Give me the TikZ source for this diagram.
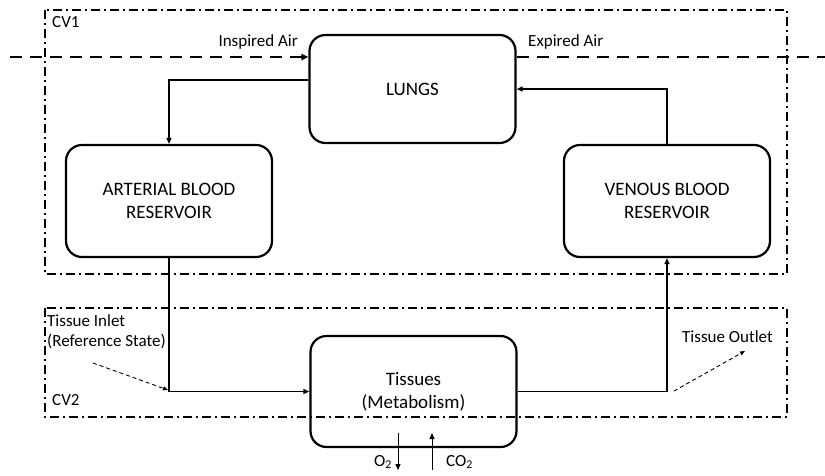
\documentclass[tikz,border=0pt]{standalone}
\usepackage{fontspec}
\setmainfont{Carlito}
\usetikzlibrary{arrows.meta,positioning}

\begin{document}
\begin{tikzpicture}[x=1pt,y=-1pt,
  organ/.style={draw, line width=2.2pt, rounded corners=16pt, align=center,
    minimum width=206pt, minimum height=108pt, font=\fontsize{19}{23}\selectfont},
  flow/.style={line width=1.3pt, -{Triangle[length=6pt,width=5pt]}},
  air/.style={line width=2pt, dash pattern=on 12pt off 8pt},
  ctrlvol/.style={line width=1.6pt, dash pattern=on 9pt off 4pt on 2pt off 4pt},
  state/.style={line width=0.9pt, dash pattern=on 4pt off 3pt, -{Triangle[length=5pt,width=4pt]}},
  lbl/.style={font=\fontsize{17}{20}\selectfont, inner sep=0pt}]
\useasboundingbox (0,0) rectangle (825,475);
% Control volumes
\draw[ctrlvol] (45,10) rectangle (787,274);
\draw[ctrlvol] (45,308) rectangle (787,417);
\node[lbl, anchor=west] (cv1) at (52,22) {CV1};
\node[lbl, anchor=west] (cv2) at (52,400) {CV2};
% Compartments
\node[organ] (lungs) at (412.5,89) {LUNGS};
\node[organ, minimum height=112pt] (arterial) at (169,201) {ARTERIAL BLOOD\\RESERVOIR};
\node[organ, minimum height=112pt] (venous) at (667,201) {VENOUS BLOOD\\RESERVOIR};
\node[organ, minimum height=111pt] (tissues) at (413.5,391.5) {Tissues\\(Metabolism)};
% Blood circulation
\draw[flow] ([yshift=9pt]lungs.west) -| (arterial.north);
\draw[flow] (arterial.south) |- (tissues.west);
\draw[flow] (tissues.east) -| (venous.south);
\draw[flow] (venous.north) |- (lungs.east);
% Breathing
\coordinate (airin) at (10,57);
\coordinate (airout) at (825,57);
\draw[air, -{Triangle[length=7pt,width=6pt]}] (airin) -- (airin -| lungs.west);
\draw[air] (airout -| lungs.east) -- (airout);
\node[lbl, anchor=east] (inspired) at (298,42) {Inspired Air};
\node[lbl, anchor=west] (expired) at (528,42) {Expired Air};
% Gas exchange
\coordinate (o2top) at (398,433);
\coordinate (o2end) at (398,470);
\coordinate (co2end) at (432,433);
\coordinate (co2start) at (432,470);
\draw[flow, line width=1pt] (o2top) -- (o2end);
\draw[flow, line width=1pt] (co2start) -- (co2end);
\node[lbl, anchor=east] (o2) at (392,462) {O\textsubscript{2}};
\node[lbl, anchor=west] (co2) at (446,462) {CO\textsubscript{2}};
% Reference states
\node[lbl, align=left, anchor=north west] (inlet) at (47,314) {Tissue Inlet\\(Reference State)};
\node[lbl, anchor=west] (outlet) at (682,337) {Tissue Outlet};
\coordinate (inletend) at (168,390);
\coordinate (outletstart) at (674,391);
\draw[state] (93,363) -- (inletend);
\draw[state] (outletstart) -- (745,351);
\end{tikzpicture}
\end{document}
